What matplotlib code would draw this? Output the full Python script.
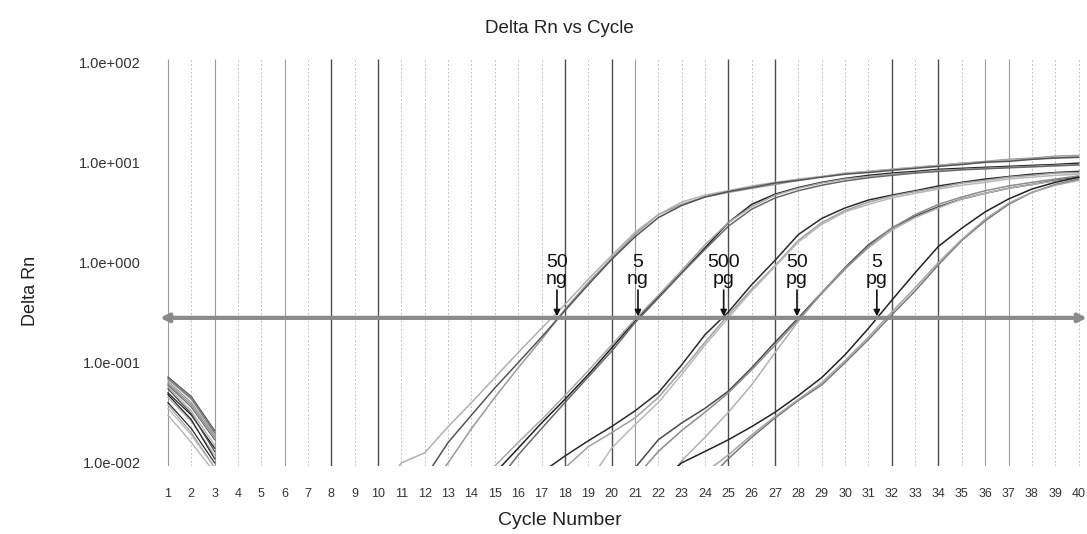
import numpy as np
import matplotlib.pyplot as plt

plt.rcParams['font.family'] = ['Liberation Sans', 'DejaVu Sans']

cycles = list(range(1, 41))
y_ticks = [0.01, 0.1, 1, 10, 100]
y_tick_labels = ['1.0e-002', '1.0e-001', '1.0e+000', '1.0e+001', '1.0e+002']
threshold = 0.28

# baseline part of every well, cycles 1-3
ng50_early = [[0.065, 0.040, 0.019], [0.058, 0.033, 0.015], [0.072, 0.046, 0.021]]
ng5_early = [[0.050, 0.030, 0.014], [0.045, 0.026, 0.012], [0.060, 0.036, 0.017]]
pg500_early = [[0.040, 0.022, 0.010], [0.068, 0.043, 0.020], [0.035, 0.019, 0.009]]
pg50_early = [[0.055, 0.031, 0.013], [0.030, 0.016, 0.008], [0.062, 0.038, 0.018]]
pg5_early = [[0.048, 0.027, 0.011], [0.070, 0.044, 0.020], [0.038, 0.020, 0.009]]

# amplification part: first cycle, then Delta Rn for each cycle up to 40
ng50_start = [12, 10, 12]
ng50 = [
    [0.005, 0.010, 0.022, 0.045, 0.089, 0.17, 0.34, 0.63, 1.1, 1.9, 3.0, 3.8, 4.5, 5.0, 5.5,
     6.0, 6.6, 7.2, 7.7, 8.1, 8.5, 8.9, 9.3, 9.8, 10.2, 10.7, 11.0, 11.5, 11.7],
    [0.005, 0.010, 0.0126, 0.023, 0.040, 0.071, 0.126, 0.22, 0.38, 0.68, 1.17, 2.0, 3.0, 4.0,
     4.7, 5.2, 5.8, 6.3, 6.8, 7.2, 7.8, 8.1, 8.5, 8.9, 9.3, 9.8, 10.0, 10.5, 10.7, 11.2, 11.5],
    [0.0071, 0.016, 0.030, 0.056, 0.10, 0.18, 0.33, 0.60, 1.07, 1.8, 2.8, 3.7, 4.5, 5.1, 5.6,
     6.2, 6.6, 7.1, 7.6, 7.9, 8.3, 8.7, 9.1, 9.5, 10.0, 10.2, 10.7, 11.0, 11.2],
]
ng5_start = [15, 14, 15]
ng5 = [
    [0.0079, 0.014, 0.025, 0.043, 0.076, 0.14, 0.26, 0.45, 0.79, 1.4, 2.5, 3.8, 4.8, 5.6,
     6.3, 6.9, 7.4, 7.8, 8.1, 8.5, 8.7, 8.9, 9.1, 9.3, 9.5, 9.8],
    [0.005, 0.0093, 0.016, 0.027, 0.047, 0.083, 0.15, 0.27, 0.47, 0.83, 1.5, 2.5, 3.6, 4.7,
     5.5, 6.2, 6.8, 7.2, 7.6, 7.9, 8.3, 8.5, 8.7, 8.9, 9.1, 9.3, 9.5],
    [0.006, 0.012, 0.022, 0.040, 0.072, 0.13, 0.25, 0.44, 0.78, 1.35, 2.3, 3.4, 4.4, 5.2,
     5.9, 6.5, 7.0, 7.4, 7.8, 8.1, 8.4, 8.6, 8.8, 9.0, 9.2, 9.4],
]
pg500_start = [17, 18, 19]
pg500 = [
    [0.008, 0.0117, 0.0166, 0.023, 0.033, 0.05, 0.095, 0.19, 0.32, 0.6, 1.05, 1.9, 2.75, 3.5,
     4.2, 4.7, 5.2, 5.8, 6.3, 6.8, 7.2, 7.6, 7.9, 8.1],
    [0.0089, 0.0145, 0.020, 0.028, 0.045, 0.083, 0.16, 0.30, 0.54, 0.93, 1.66, 2.5, 3.3, 4.0,
     4.6, 5.1, 5.6, 6.2, 6.6, 7.1, 7.4, 7.8, 7.9],
    [0.0063, 0.014, 0.024, 0.040, 0.076, 0.15, 0.28, 0.52, 0.91, 1.6, 2.4, 3.2, 3.8, 4.4,
     4.9, 5.4, 5.9, 6.3, 6.8, 7.1, 7.4, 7.6],
]
pg50_start = [21, 22, 21]
pg50 = [
    [0.0089, 0.017, 0.025, 0.035, 0.052, 0.089, 0.16, 0.28, 0.5, 0.89, 1.5, 2.2, 2.9, 3.6,
     4.3, 4.9, 5.5, 6.0, 6.6, 7.1],
    [0.005, 0.0105, 0.018, 0.032, 0.06, 0.126, 0.26, 0.5, 0.87, 1.4, 2.1, 2.8, 3.5, 4.3,
     4.9, 5.5, 6.0, 6.5, 6.9],
    [0.007, 0.013, 0.021, 0.032, 0.050, 0.085, 0.15, 0.27, 0.49, 0.86, 1.45, 2.2, 3.0, 3.8,
     4.5, 5.2, 5.8, 6.3, 6.8, 7.3],
]
pg5_start = [22, 24, 24]
pg5 = [
    [0.0063, 0.010, 0.013, 0.017, 0.023, 0.032, 0.047, 0.071, 0.12, 0.22, 0.42, 0.79, 1.45,
     2.2, 3.2, 4.3, 5.4, 6.3, 7.1],
    [0.0063, 0.011, 0.018, 0.028, 0.042, 0.060, 0.10, 0.17, 0.30, 0.52, 0.95, 1.66, 2.6,
     3.8, 5.0, 6.0, 6.8],
    [0.008, 0.012, 0.019, 0.029, 0.043, 0.063, 0.105, 0.18, 0.32, 0.56, 1.0, 1.7, 2.7,
     3.9, 5.0, 5.9, 6.6],
]

labels_top = ['50', '5', '500', '50', '5']
labels_unit = ['ng', 'ng', 'pg', 'pg', 'pg']
label_ct = [17.66, 21.13, 24.8, 27.94, 31.36]

dark_grid = [8, 10, 18, 20, 25, 27, 32, 34]
mid_grid = [1, 3, 6, 21, 36, 37]

groups = [
    (ng50_early, ng50_start, ng50, ['#9a9a9a', '#b0b0b0', '#555555']),
    (ng5_early, ng5_start, ng5, ['#222222', '#a8a8a8', '#6a6a6a']),
    (pg500_early, pg500_start, pg500, ['#2a2a2a', '#a0a0a0', '#b8b8b8']),
    (pg50_early, pg50_start, pg50, ['#4a4a4a', '#b0b0b0', '#8c8c8c']),
    (pg5_early, pg5_start, pg5, ['#222222', '#777777', '#a5a5a5']),
]

fig = plt.figure(figsize=(10.87, 5.34), dpi=100)
ax = fig.add_axes([0.1472, 0.1273, 0.8528, 0.762])
ax.set_yscale('log')
ax.set_xlim(0.66, 40.36)
ax.set_ylim(0.0093, 107)

for c in cycles:
    if c in dark_grid:
        ax.vlines(c, 0.0093, 107, color='#4d4d4d', lw=1.0, zorder=1)
    elif c in mid_grid:
        ax.vlines(c, 0.0093, 107, color='#9a9a9a', lw=0.8, zorder=1)
    else:
        ax.vlines(c, 0.0093, 107, color='#c4c4c4', lw=0.7, ls=(0, (2, 2)), zorder=1)

for early, starts, rises, colors in groups:
    for e, s, r, col in zip(early, starts, rises, colors):
        ax.plot(cycles[:3], e, color=col, lw=0.9, zorder=2)
        ax.plot(cycles[s - 1:s - 1 + len(r)], r, color=col, lw=1.1, zorder=3)

ax.annotate('', xy=(40.36, threshold), xytext=(0.66, threshold),
            arrowprops=dict(arrowstyle='<->', color='#8a8a8a', lw=3.0,
                            shrinkA=0, shrinkB=0, mutation_scale=12),
            annotation_clip=False, zorder=4)

for top, unit, ct in zip(labels_top, labels_unit, label_ct):
    ax.text(ct, 0.56, top + '\n' + unit, ha='center', va='bottom', fontsize=14,
            linespacing=0.95, color='#111111', zorder=5)
    ax.annotate('', xy=(ct, 0.29), xytext=(ct, 0.53),
                arrowprops=dict(arrowstyle='-|>', color='#111111', lw=1.2,
                                shrinkA=0, shrinkB=0, mutation_scale=9), zorder=5)

for side in ['top', 'right', 'bottom', 'left']:
    ax.spines[side].set_visible(False)

ax.set_xticks(cycles)
ax.set_xticklabels([str(c) for c in cycles], fontsize=9, color='#333333')
ax.set_yticks(y_ticks)
ax.set_yticklabels(y_tick_labels, fontsize=10.5, color='#333333')
ax.minorticks_off()
ax.tick_params(axis='x', length=0, pad=16)
ax.tick_params(axis='y', length=0, pad=14)

fig.text(0.515, 0.947, 'Delta Rn vs Cycle', ha='center', va='center', fontsize=13.5, color='#222222')
fig.text(0.515, 0.025, 'Cycle Number', ha='center', va='center', fontsize=14, color='#222222')
fig.text(0.028, 0.455, 'Delta Rn', ha='center', va='center', rotation=90, fontsize=13, color='#222222')

fig.savefig('out.png', dpi=100)
